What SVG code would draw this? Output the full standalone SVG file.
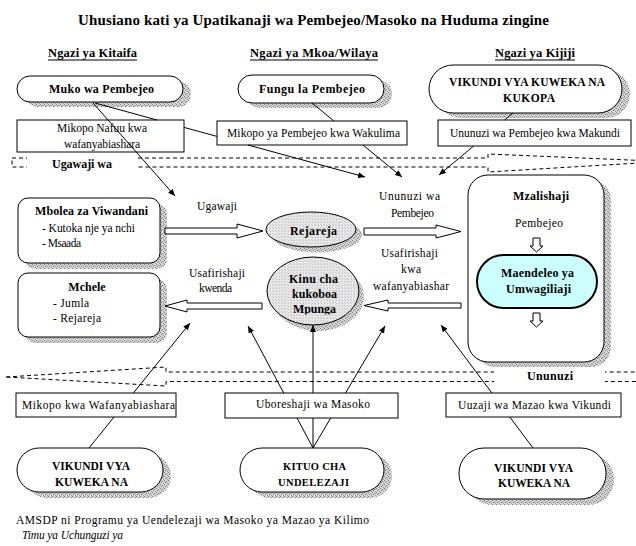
<svg xmlns="http://www.w3.org/2000/svg" width="636" height="546" viewBox="0 0 636 546">
<defs>
<style>
text{font-family:"Liberation Serif","Times New Roman",serif;fill:#000}
.t{font-size:15px;font-weight:bold}
.h{font-size:12.5px;font-weight:bold}
.b{font-size:12px;font-weight:bold}
.c{font-size:11.5px;font-weight:bold}
.r{font-size:11.5px}
.node{fill:#fff;stroke:#000;stroke-width:1}
.sh{fill:url(#dots);stroke:none}
.ell{fill:url(#lt);stroke:#000;stroke-width:1}
.barr{fill:#fff;stroke:#000;stroke-width:1}
.band{fill:none;stroke:#000;stroke-width:1;stroke-dasharray:4 3}
.con{fill:none;stroke:#000;stroke-width:1}
.ul{stroke:#000;stroke-width:1}
</style>
<pattern id="dots" width="4" height="4" patternUnits="userSpaceOnUse">
<rect width="4" height="4" fill="#d8d8d8"/>
<rect x="0" y="0" width="1" height="1" fill="#7a7a7a"/>
<rect x="2" y="1" width="1" height="1" fill="#949494"/>
<rect x="1" y="2" width="1" height="1" fill="#6e6e6e"/>
<rect x="3" y="3" width="1" height="1" fill="#9a9a9a"/>
<rect x="3" y="1" width="1" height="1" fill="#b0b0b0"/>
</pattern>
<pattern id="lt" width="3" height="3" patternUnits="userSpaceOnUse">
<rect width="3" height="3" fill="#e8e8e8"/>
<rect x="0" y="0" width="1" height="1" fill="#bdbdbd"/>
<rect x="2" y="2" width="1" height="1" fill="#cacaca"/>
</pattern>
<marker id="ah" markerWidth="7" markerHeight="6" refX="7" refY="3" orient="auto" markerUnits="userSpaceOnUse">
<path d="M0,0 L7,3 L0,6 z" fill="#000"/>
</marker>
<clipPath id="kclip"><rect x="255" y="255" width="120" height="59.5"/></clipPath>
</defs>
<rect width="636" height="546" fill="#fff"/>

<text class="t" x="313.5" y="25" text-anchor="middle" textLength="471" lengthAdjust="spacing">Uhusiano kati ya Upatikanaji wa Pembejeo/Masoko na Huduma zingine</text>

<g id="headings">
<text class="h" x="48" y="57" textLength="89" lengthAdjust="spacing">Ngazi ya Kitaifa</text>
<line class="ul" x1="48" y1="60" x2="137" y2="60"/>
<text class="h" x="250" y="57" textLength="128" lengthAdjust="spacing">Ngazi ya Mkoa/Wilaya</text>
<line class="ul" x1="250" y1="60" x2="378" y2="60"/>
<text class="h" x="495" y="57" textLength="80" lengthAdjust="spacing">Ngazi ya Kijiji</text>
<line class="ul" x1="495" y1="60" x2="575" y2="60"/>
</g>

<g id="band-top">
<polygon class="band" points="12,158 488,158 488,154 664,161.5 488,172 488,167 12,167"/>
<rect x="27" y="154" width="110" height="18" fill="#fff"/>
<text class="b" x="52" y="168" textLength="60" lengthAdjust="spacing">Ugawaji wa</text>
</g>

<g id="band-bottom">
<polygon class="band" points="6,377 166,367 166,372 660,372 660,381.5 166,381.5 166,386"/>
<rect x="494" y="369" width="111" height="16" fill="#fff"/>
<text class="b" x="527" y="380" textLength="46" lengthAdjust="spacing">Ununuzi</text>
</g>

<g id="muko">
<rect class="sh" x="25" y="81" width="166" height="26" rx="13"/>
<rect class="node" x="17" y="76" width="166" height="26" rx="13"/>
<text class="b" x="49" y="93" textLength="105" lengthAdjust="spacing">Muko wa Pembejeo</text>
</g>
<g id="fungu">
<rect class="sh" x="246" y="80" width="146" height="28" rx="14"/>
<rect class="node" x="238" y="75" width="146" height="28" rx="14"/>
<text class="b" x="259" y="93" textLength="106" lengthAdjust="spacing">Fungu la Pembejeo</text>
</g>
<g id="vikundi-top">
<rect class="sh" x="437" y="70" width="193" height="48" rx="24"/>
<rect class="node" x="429" y="65" width="193" height="48" rx="24"/>
<text class="c" x="449" y="86" textLength="156" lengthAdjust="spacing">VIKUNDI VYA KUWEKA NA</text>
<text class="c" x="503" y="102" textLength="52" lengthAdjust="spacing">KUKOPA</text>
</g>

<g id="box-mikopo-nafuu">
<rect class="node" x="17" y="120" width="167" height="32"/>
<text class="r" x="57" y="132" textLength="90" lengthAdjust="spacing">Mikopo Nafuu kwa</text>
<text class="r" x="64" y="148" textLength="76" lengthAdjust="spacing">wafanyabiashara</text>
</g>
<g id="box-mikopo-pembejeo">
<rect class="node" x="217" y="121" width="190" height="24"/>
<text class="r" x="227" y="137" textLength="173" lengthAdjust="spacing">Mikopo ya Pembejeo kwa Wakulima</text>
</g>
<g id="box-ununuzi-makundi">
<rect class="node" x="438" y="120" width="193" height="26"/>
<text class="r" x="450" y="137" textLength="170" lengthAdjust="spacing">Ununuzi wa Pembejeo kwa Makundi</text>
</g>

<g id="mbolea">
<rect class="sh" x="25" y="204" width="142" height="65" rx="10"/>
<rect class="node" x="18" y="198" width="142" height="65" rx="10"/>
<text class="b" x="35" y="215" textLength="113" lengthAdjust="spacing">Mbolea za Viwandani</text>
<text class="r" x="42" y="232" textLength="93" lengthAdjust="spacing">- Kutoka nje ya nchi</text>
<text class="r" x="42" y="247" textLength="39" lengthAdjust="spacing">- Msaada</text>
</g>
<g id="mchele">
<rect class="sh" x="25" y="279" width="142" height="64" rx="10"/>
<rect class="node" x="18" y="273" width="142" height="64" rx="10"/>
<text class="b" x="87" y="291" text-anchor="middle">Mchele</text>
<text class="r" x="53" y="307" textLength="36" lengthAdjust="spacing">- Jumla</text>
<text class="r" x="53" y="322" textLength="48" lengthAdjust="spacing">- Rejareja</text>
</g>

<g id="rejareja">
<ellipse class="sh" cx="317" cy="235" rx="45" ry="17.5"/>
<ellipse class="ell" cx="311" cy="229.5" rx="45" ry="17.5"/>
<text class="b" x="290" y="235" textLength="47" lengthAdjust="spacing">Rejareja</text>
</g>
<g id="kinu">
<ellipse class="sh" cx="318" cy="297" rx="46" ry="34"/>
<ellipse class="ell" cx="313" cy="291" rx="46" ry="34"/>
<g clip-path="url(#kclip)">
<text class="b" x="289" y="283" textLength="49" lengthAdjust="spacing">Kinu cha</text>
<text class="b" x="292" y="298" textLength="45" lengthAdjust="spacing">kukoboa</text>
<text class="b" x="293" y="313" textLength="43" lengthAdjust="spacing">Mpunga</text>
</g>
</g>

<g id="mzalishaji">
<rect class="sh" x="475" y="180" width="136" height="187" rx="20"/>
<rect class="node" x="468" y="175" width="136" height="187" rx="20"/>
<text class="b" x="513" y="200" textLength="56" lengthAdjust="spacing">Mzalishaji</text>
<text class="r" x="515" y="227" textLength="48" lengthAdjust="spacing">Pembejeo</text>
<polygon class="barr" points="533,238 540,238 540,246 543,246 536.5,252 530,246 533,246"/>
<polygon class="barr" points="533,313 540,313 540,321 543,321 536.5,327 530,321 533,321"/>
</g>
<g id="maendeleo">
<rect x="477" y="255" width="120" height="53" rx="26.5" fill="#ccffff" stroke="#000" stroke-width="2"/>
<text class="b" x="501" y="277" textLength="73" lengthAdjust="spacing">Maendeleo ya</text>
<text class="b" x="506" y="293" textLength="65" lengthAdjust="spacing">Umwagiliaji</text>
</g>

<g id="flow-ugawaji">
<polygon class="barr" points="165,228 237,228 237,224 263,231 237,238 237,234 165,234"/>
<text class="r" x="197" y="210" textLength="40" lengthAdjust="spacing">Ugawaji</text>
</g>
<g id="flow-usafirishaji-kwenda">
<polygon class="barr" points="262,303 187,303 187,300 165,306 187,312 187,309 262,309"/>
<text class="r" x="189" y="277" textLength="56" lengthAdjust="spacing">Usafirishaji</text>
<text class="r" x="199" y="292" textLength="33" lengthAdjust="spacing">kwenda</text>
</g>
<g id="flow-ununuzi-pembejeo">
<polygon class="barr" points="364,228 436,228 436,225 461,231.5 436,238 436,235 364,235"/>
<text class="r" x="379" y="200" textLength="61" lengthAdjust="spacing">Ununuzi wa</text>
<text class="r" x="391" y="217" textLength="43" lengthAdjust="spacing">Pembejeo</text>
</g>
<g id="flow-usafirishaji-kwa">
<polygon class="barr" points="461,303 388,303 388,300 364,305.5 388,311 388,308 461,308"/>
<text class="r" x="381" y="257" textLength="57" lengthAdjust="spacing">Usafirishaji</text>
<text class="r" x="401" y="273" textLength="20" lengthAdjust="spacing">kwa</text>
<text class="r" x="373" y="290" textLength="76" lengthAdjust="spacing">wafanyabiashar</text>
</g>

<g id="box-mikopo-wafanyabiashara">
<rect class="node" x="16" y="393" width="160" height="24"/>
<text class="r" x="22" y="409" textLength="153" lengthAdjust="spacing">Mikopo kwa Wafanyabiashara</text>
</g>
<g id="box-uboreshaji">
<rect class="node" x="225" y="393" width="173" height="25"/>
<text class="r" x="256" y="408" textLength="114" lengthAdjust="spacing">Uboreshaji wa Masoko</text>
</g>
<g id="box-uuzaji">
<rect class="node" x="446" y="393" width="175" height="24"/>
<text class="r" x="458" y="409" textLength="153" lengthAdjust="spacing">Uuzaji wa Mazao kwa Vikundi</text>
</g>

<g id="vikundi-left">
<rect class="sh" x="25" y="454" width="146" height="44" rx="22"/>
<rect class="node" x="17" y="448" width="146" height="44" rx="22"/>
<text class="c" x="52" y="470" textLength="78" lengthAdjust="spacing">VIKUNDI VYA</text>
<text class="c" x="55" y="486" textLength="73" lengthAdjust="spacing">KUWEKA NA</text>
</g>
<g id="kituo">
<rect class="sh" x="248" y="454" width="144" height="44" rx="22"/>
<rect class="node" x="240" y="448" width="144" height="44" rx="22"/>
<text class="c" x="283" y="470" textLength="63" lengthAdjust="spacing" style="font-size:10.5px">KITUO CHA</text>
<text class="c" x="278" y="486" textLength="71" lengthAdjust="spacing" style="font-size:10.5px">UNDELEZAJI</text>
</g>
<g id="vikundi-right">
<rect class="sh" x="467" y="454" width="147" height="51" rx="25"/>
<rect class="node" x="459" y="448" width="147" height="51" rx="25"/>
<text class="c" x="494" y="472" textLength="79" lengthAdjust="spacing">VIKUNDI VYA</text>
<text class="c" x="498" y="487" textLength="72" lengthAdjust="spacing">KUWEKA NA</text>
</g>

<g id="connectors">
<line class="con" x1="93" y1="103" x2="175" y2="196" marker-end="url(#ah)"/>
<path class="con" d="M95,103 L157,120 M184,127.4 L217,136.4"/>
<line class="con" x1="248" y1="145" x2="365" y2="177" marker-end="url(#ah)"/>
<path class="con" d="M312,103 L333.9,121"/>
<line class="con" x1="363" y1="145" x2="402" y2="177" marker-end="url(#ah)"/>
<path class="con" d="M513,113 L504.6,120"/>
<line class="con" x1="473.6" y1="146" x2="439" y2="175" marker-end="url(#ah)"/>
<path class="con" d="M89,448 L114,417"/>
<line class="con" x1="133.4" y1="393" x2="190" y2="323" marker-end="url(#ah)"/>
<path class="con" d="M313,448 L297,418 M313,448 L313,418 M313,448 L330.7,418"/>
<line class="con" x1="283.7" y1="393" x2="248" y2="326" marker-end="url(#ah)"/>
<line class="con" x1="313" y1="393" x2="313" y2="325" marker-end="url(#ah)"/>
<line class="con" x1="345.5" y1="393" x2="385" y2="326" marker-end="url(#ah)"/>
<path class="con" d="M533,448 L509.8,417"/>
<line class="con" x1="491.9" y1="393" x2="441" y2="325" marker-end="url(#ah)"/>
</g>

<g id="footer">
<text class="r" x="16" y="524" textLength="353" lengthAdjust="spacing">AMSDP ni Programu ya Uendelezaji wa Masoko ya Mazao ya Kilimo</text>
<text class="r" x="22" y="539" textLength="101" lengthAdjust="spacing" style="font-style:italic">Timu ya Uchunguzi ya</text>
</g>
</svg>
